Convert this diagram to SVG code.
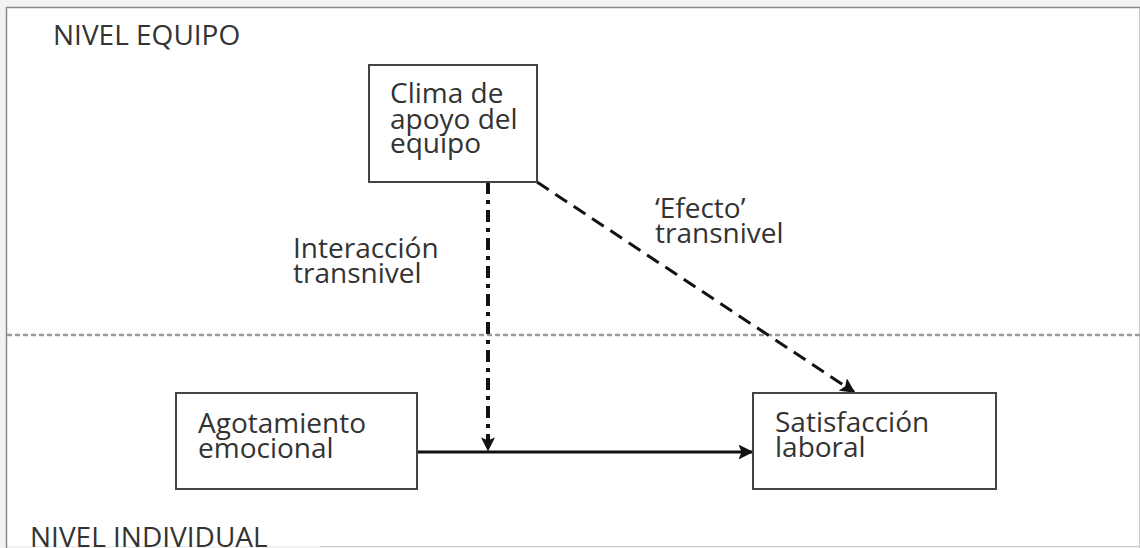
<svg xmlns="http://www.w3.org/2000/svg" width="1140" height="548" viewBox="0 0 1140 548">
<defs>
<style>
text{font-family:"Open Sans","Noto Sans","DejaVu Sans",sans-serif;fill:#333;font-size:28px;}
.box{fill:#fff;stroke:#444;stroke-width:2;}
</style>
<marker id="ah" viewBox="0 0 10 10" refX="9" refY="5" markerWidth="5" markerHeight="5" markerUnits="strokeWidth" orient="auto">
<path d="M0,0 L10,5 L0,10 L2,5 Z" fill="#111"/>
</marker>
<marker id="ah2" viewBox="0 0 10 10" refX="9" refY="5" markerWidth="3.5" markerHeight="3.5" markerUnits="strokeWidth" orient="auto">
<path d="M0,0 L10,5 L0,10 L2,5 Z" fill="#111"/>
</marker>
</defs>
<rect x="0" y="0" width="1140" height="548" fill="#f2f2f2"/>
<rect x="7" y="8" width="1132" height="538" fill="#fff"/>
<line x1="7" y1="7.5" x2="1140" y2="7.5" stroke="#8a8a8a" stroke-width="1.5"/>
<line x1="6.5" y1="7" x2="6.5" y2="548" stroke="#8a8a8a" stroke-width="1.5"/>
<line x1="1139.5" y1="8" x2="1139.5" y2="548" stroke="#c8c8c8" stroke-width="1"/>
<line x1="320" y1="546.5" x2="1140" y2="546.5" stroke="#c8c8c8" stroke-width="1"/>
<line x1="7" y1="335" x2="1140" y2="335" stroke="#9a9a9a" stroke-width="2.5" stroke-dasharray="5,3"/>
<text x="53" y="45">NIVEL EQUIPO</text>
<text x="30" y="547">NIVEL INDIVIDUAL</text>
<g id="connectors">
<line x1="488" y1="182" x2="488" y2="450" stroke="#111" stroke-width="4" stroke-dasharray="12,6,4,6" marker-end="url(#ah2)"/>
<line x1="537" y1="182" x2="854" y2="392" stroke="#111" stroke-width="3" stroke-dasharray="14,8" marker-end="url(#ah)"/>
<line x1="417" y1="452" x2="752" y2="452" stroke="#111" stroke-width="3" marker-end="url(#ah)"/>
<text x="293" y="258">Interacción</text>
<text x="293" y="283">transnivel</text>
<text x="655" y="218">‘Efecto’</text>
<text x="655" y="243">transnivel</text>
</g>
<g id="clima">
<rect class="box" x="369" y="65" width="168" height="117"/>
<text x="390" y="103">Clima de</text>
<text x="390" y="129">apoyo del</text>
<text x="390" y="153">equipo</text>
</g>
<g id="agotamiento">
<rect class="box" x="176" y="393" width="241" height="96"/>
<text x="198" y="433">Agotamiento</text>
<text x="198" y="458">emocional</text>
</g>
<g id="satisfaccion">
<rect class="box" x="753" y="393" width="243" height="96"/>
<text x="775" y="432">Satisfacción</text>
<text x="775" y="457">laboral</text>
</g>
</svg>
